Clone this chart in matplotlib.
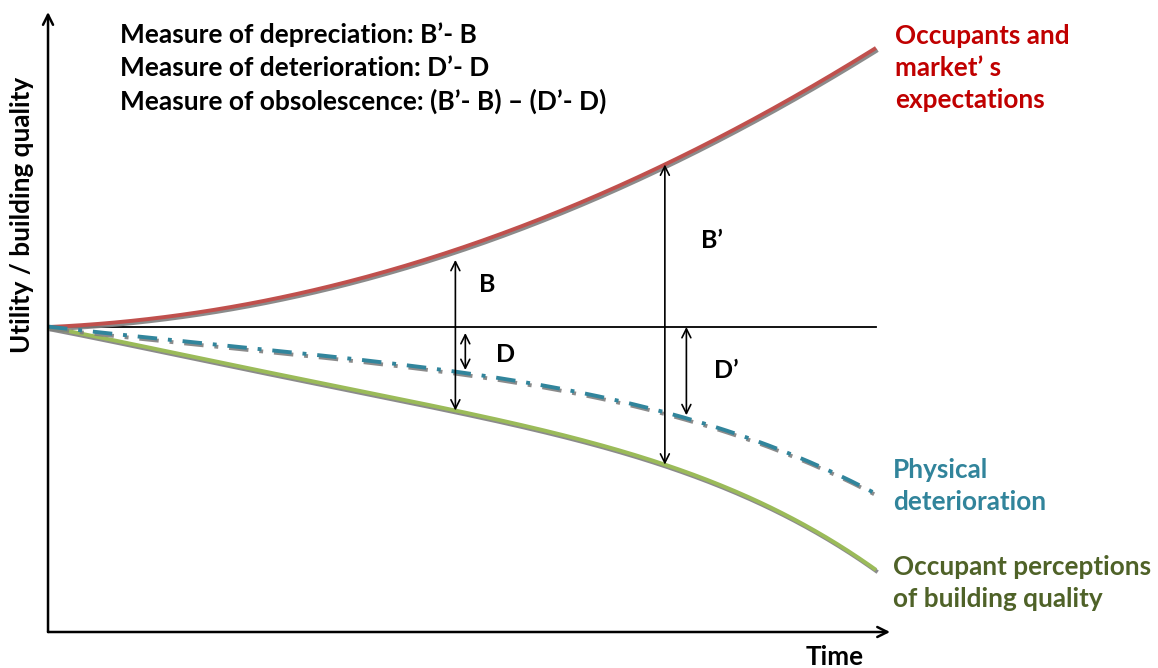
import matplotlib.pyplot as plt
import matplotlib.patheffects as pe
import numpy as np

# Time (arbitrary units) and utility relative to the starting quality
t = [0, 1, 2, 3, 4, 5, 6, 7, 8, 9, 10]
expectations = [0, 0.6, 1.7, 3.3, 5.4, 7.9, 11.0, 14.5, 18.5, 23.0, 27.9]
deterioration = [0, -0.8, -1.7, -2.6, -3.6, -4.6, -5.8, -7.5, -9.8, -13.0, -16.6]
perceptions = [0, -1.7, -3.4, -5.1, -6.8, -8.4, -10.4, -12.7, -15.3, -19.2, -24.3]

# Times where the gaps are measured
t_first = 4.92
t_first_d = 5.04
t_second = 7.45
t_second_d = 7.71

RED = "#C0504D"
TEAL = "#31859C"
GREEN = "#9BBB59"
RED_TXT = "#C00000"
TEAL_TXT = "#31849B"
GREEN_TXT = "#4F6228"
FONT = "Lato"

W, H = 1158, 668
fig = plt.figure(figsize=(W / 100, H / 100), dpi=100, facecolor="white")
ax = fig.add_axes([0, 0, 1, 1])
ax.set_xlim(-0.58, 13.406)
ax.set_ylim(-34.1, 32.7)
ax.axis("off")


def smooth(values):
    # smooth curve through the read-off points
    coef = np.polyfit(t, values, 4)
    return lambda x: np.polyval(coef, x)


red_f = smooth(expectations)
teal_f = smooth(deterioration)
green_f = smooth(perceptions)

shadow = [pe.SimpleLineShadow(offset=(1.2, -1.6), shadow_color="#7F7F7F", alpha=0.9), pe.Normal()]

tt = np.linspace(0, 10, 300)
ax.plot(tt, red_f(tt), color=RED, lw=2.8, path_effects=shadow,
        solid_capstyle="butt", zorder=3)
ax.plot(tt, green_f(tt), color=GREEN, lw=2.8, path_effects=shadow,
        solid_capstyle="butt", zorder=3)
ax.plot(tt, teal_f(tt), color=TEAL, lw=2.8, path_effects=shadow,
        linestyle=(0, (5, 2.8, 1, 2.8)), dash_capstyle="butt", zorder=3)

# Reference level
ax.plot([0, 10], [0, 0], color="black", lw=1.3, zorder=2)

# Axes with arrow heads
y_base = -30.5
ax.annotate("", xy=(0, 31.5), xytext=(0, y_base),
            arrowprops=dict(arrowstyle="->", lw=1.8, color="black",
                            mutation_scale=18, shrinkA=0, shrinkB=0))
ax.annotate("", xy=(10.17, y_base), xytext=(0, y_base),
            arrowprops=dict(arrowstyle="->", lw=1.8, color="black",
                            mutation_scale=18, shrinkA=0, shrinkB=0))


def gap(x, top, bottom):
    ax.annotate("", xy=(x, top), xytext=(x, bottom),
                arrowprops=dict(arrowstyle="<->", lw=1.2, color="black",
                                mutation_scale=16, shrinkA=0, shrinkB=0), zorder=4)


gap(t_first, red_f(t_first) - 1.0, green_f(t_first))
gap(t_first_d, -0.6, teal_f(t_first_d) + 0.3)
gap(t_second, red_f(t_second), green_f(t_second))
gap(t_second_d, 0, teal_f(t_second_d) + 0.3)

lbl = dict(fontsize=18, fontweight="bold", family=FONT, ha="center", va="center")
ax.text(5.3, 4.2, "B", **lbl)
ax.text(5.53, -2.8, "D", **lbl)
ax.text(8.02, 8.7, "B’", **lbl)
ax.text(8.19, -4.3, "D’", **lbl)


def ftext(px, py, s, **kw):
    fig.text(px / W, 1 - py / H, s, family=FONT, fontweight="bold", **kw)


ftext(120, 35, "Measure of depreciation: B’- B", fontsize=19, va="center")
ftext(120, 68, "Measure of deterioration: D’- D", fontsize=19, va="center")
ftext(120, 101, "Measure of obsolescence: (B’- B) – (D’- D)", fontsize=19, va="center")

ftext(895, 68, "Occupants and\nmarket’ s\nexpectations", fontsize=18.8, color=RED_TXT,
      va="center", linespacing=1.42)
ftext(893, 486, "Physical\ndeterioration", fontsize=18.8, color=TEAL_TXT,
      va="center", linespacing=1.42)
ftext(893, 583, "Occupant perceptions\nof building quality", fontsize=18.8, color=GREEN_TXT,
      va="center", linespacing=1.42)

ftext(835, 657, "Time", fontsize=18.8, ha="center", va="center")
ftext(22, 215, "Utility / building quality", fontsize=18.8, ha="center", va="center",
      rotation=90)

fig.savefig("out.png", dpi=100, facecolor="white")
